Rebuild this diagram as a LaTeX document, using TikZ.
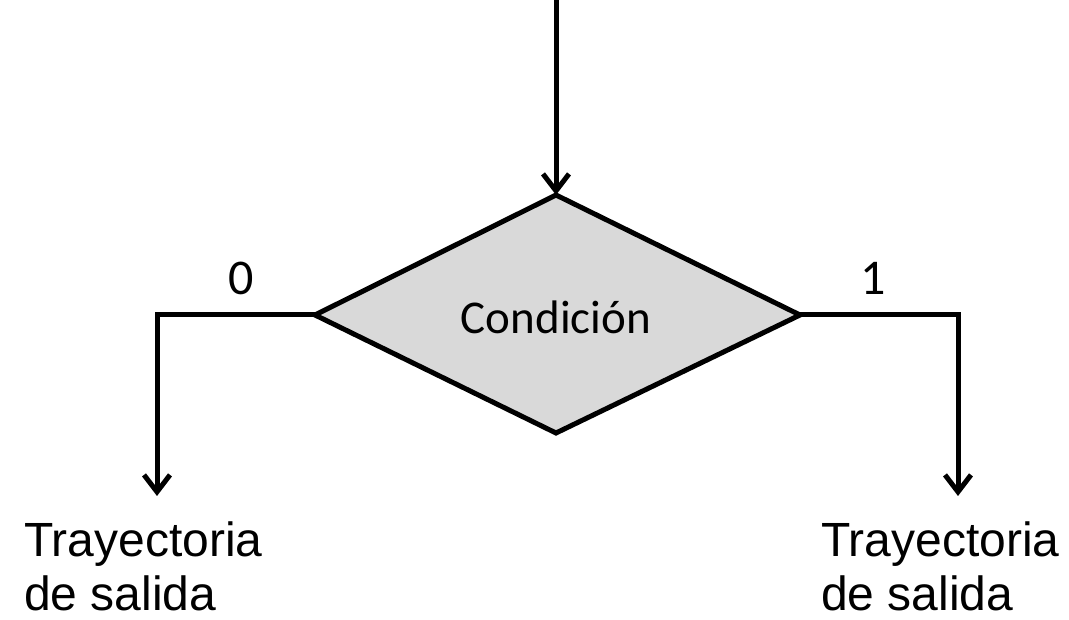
\documentclass[tikz,border=0pt]{standalone}
\usepackage{fontspec}
\setmainfont{Liberation Sans}
\newfontfamily\calfont{Carlito}
\usetikzlibrary{arrows.meta,shapes.geometric}
\tikzset{
  flow/.style={line width=5pt, -{Straight Barb[length=17pt,width=26pt,line width=5pt]}},
  label/.style={font=\calfont\fontsize{50}{56}\selectfont, inner sep=0pt},
  outtext/.style={font=\fontsize{48}{54}\selectfont, align=left, anchor=north west, inner sep=0pt},
}
\begin{document}
\begin{tikzpicture}[x=1pt,y=1pt]
  \useasboundingbox (0,0) rectangle (1069,619);
  % decision diamond
  \coordinate (dt) at (556,424);
  \coordinate (dl) at (315,304);
  \coordinate (dr) at (800,304);
  \coordinate (db) at (556,186);
  \draw[line width=5pt, line join=miter, fill={rgb,255:red,217;green,217;blue,217}]
    (dt) -- (dr) -- (db) -- (dl) -- cycle;
  \node[inner sep=0pt, font=\calfont\fontsize{47}{52}\selectfont] (cond) at (556,302) {Condición};
  % incoming arrow
  \coordinate (top) at (556,619);
  \draw[flow] (top) -- (dt);
  % branches
  \coordinate (lc) at (157,304);
  \coordinate (le) at (157,123);
  \coordinate (rc) at (958,304);
  \coordinate (re) at (958,123);
  \draw[flow] (dl) -- (lc) -- (le);
  \draw[flow] (dr) -- (rc) -- (re);
  \node[label] (zero) at (241,341) {0};
  \node[label] (one) at (873,341) {1};
  % outputs
  \node[outtext] (outl) at (24,97) {Trayectoria\\de salida};
  \node[outtext] (outr) at (821,97) {Trayectoria\\de salida};
\end{tikzpicture}
\end{document}
